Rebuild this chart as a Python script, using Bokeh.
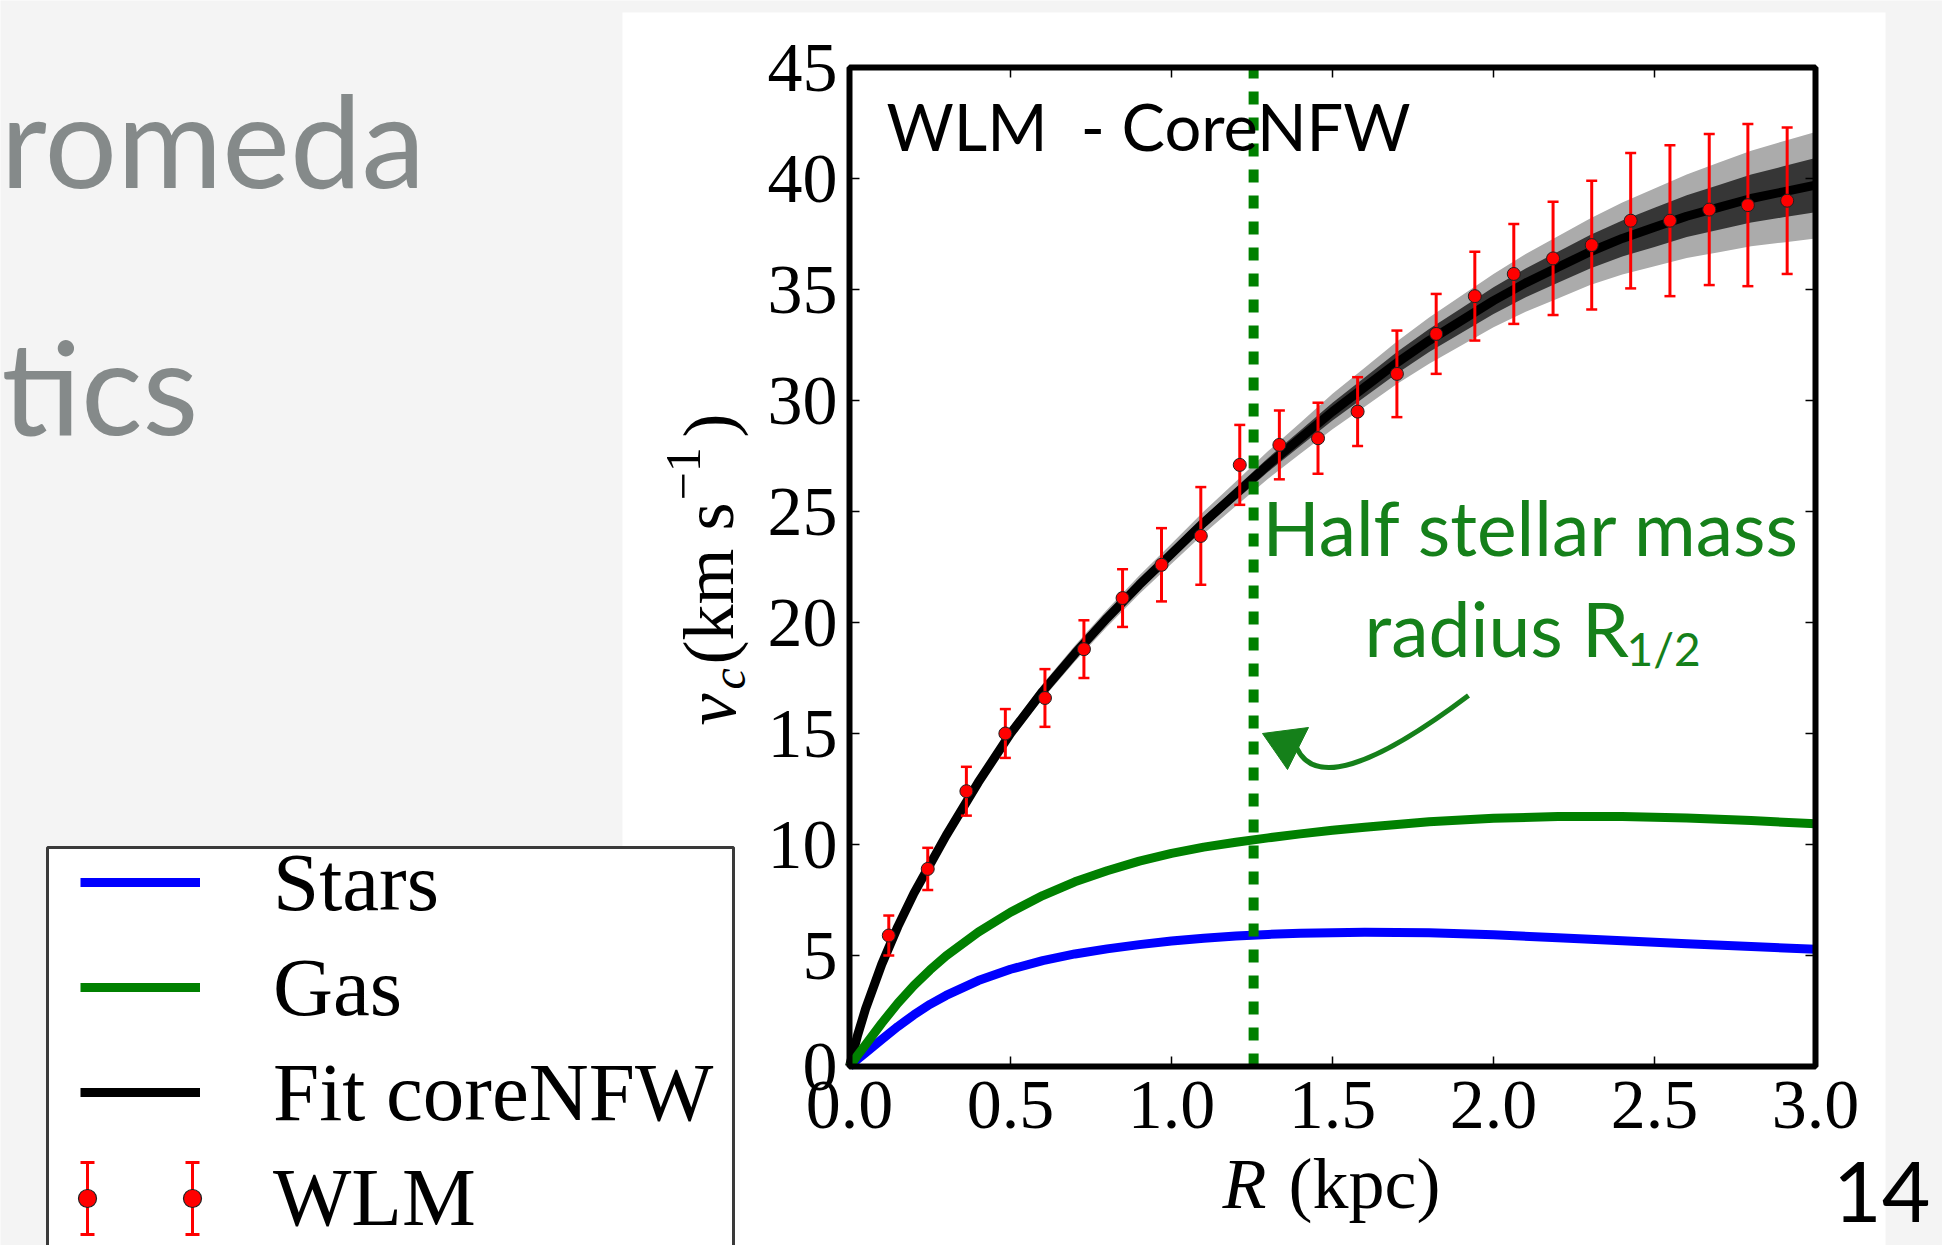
import numpy as np
from bokeh.plotting import figure
from bokeh.models import (Range1d, LinearAxis, FixedTicker, CustomJSTickFormatter,
                          Label, BoxAnnotation, Legend, LegendItem)
from bokeh.embed import file_html
from bokeh.resources import INLINE

# ---------------- data ----------------
data_r = [0.122, 0.243, 0.363, 0.484, 0.607, 0.728, 0.848, 0.969, 1.091, 1.212, 1.335, 1.455,
          1.578, 1.700, 1.822, 1.942, 2.063, 2.185, 2.305, 2.426, 2.548, 2.670, 2.790, 2.912]
data_v = [5.9, 8.9, 12.4, 15.0, 16.6, 18.8, 21.1, 22.6, 23.9, 27.1, 28.0, 28.3,
          29.5, 31.2, 33.0, 34.7, 35.7, 36.4, 37.0, 38.1, 38.1, 38.6, 38.8, 39.0]
data_err = [0.9, 0.95, 1.1, 1.1, 1.3, 1.3, 1.3, 1.65, 2.2, 1.8, 1.55, 1.6,
            1.55, 1.95, 1.8, 2.0, 2.25, 2.55, 2.9, 3.05, 3.4, 3.4, 3.65, 3.3]

fit_r = [0, 0.025, 0.05, 0.1, 0.15, 0.2, 0.25, 0.3, 0.4, 0.5, 0.6, 0.7, 0.8, 0.9, 1.0, 1.1, 1.2,
         1.3, 1.4, 1.5, 1.6, 1.7, 1.8, 1.9, 2.0, 2.1, 2.2, 2.3, 2.4, 2.5, 2.6, 2.7, 2.8, 2.9, 3.0]
fit_v = [0, 1.4, 2.6, 4.6, 6.3, 7.8, 9.1, 10.4, 12.8, 15.0, 16.9, 18.6, 20.2, 21.7, 23.1, 24.5, 25.8,
         27.1, 28.3, 29.5, 30.6, 31.7, 32.7, 33.6, 34.5, 35.3, 36.0, 36.7, 37.3, 37.8, 38.3, 38.7, 39.1, 39.4, 39.7]
fit_band_outer = [0, 0.05, 0.08, 0.12, 0.15, 0.18, 0.2, 0.22, 0.26, 0.3, 0.33, 0.36, 0.39, 0.42, 0.45, 0.5, 0.55,
                  0.62, 0.7, 0.8, 0.88, 0.96, 1.04, 1.12, 1.2, 1.3, 1.4, 1.5, 1.62, 1.75, 1.88, 2.02, 2.15, 2.28, 2.4]
fit_band_inner = [0, 0.03, 0.04, 0.06, 0.08, 0.09, 0.1, 0.11, 0.13, 0.15, 0.17, 0.18, 0.2, 0.21, 0.23, 0.25, 0.28,
                  0.31, 0.35, 0.4, 0.44, 0.48, 0.52, 0.56, 0.6, 0.65, 0.7, 0.75, 0.81, 0.88, 0.94, 1.01, 1.08, 1.15, 1.22]

comp_r = [0, 0.025, 0.05, 0.1, 0.15, 0.2, 0.25, 0.3, 0.4, 0.5, 0.6, 0.7, 0.8, 0.9, 1.0, 1.1, 1.2,
          1.3, 1.4, 1.5, 1.6, 1.8, 2.0, 2.2, 2.4, 2.6, 2.8, 3.0]
stars_v = [0, 0.32, 0.62, 1.22, 1.8, 2.33, 2.8, 3.2, 3.87, 4.38, 4.77, 5.07, 5.3, 5.49, 5.65, 5.78, 5.88,
           5.95, 6.0, 6.03, 6.05, 6.03, 5.93, 5.8, 5.66, 5.53, 5.4, 5.28]
gas_v = [0, 0.5, 0.98, 1.95, 2.85, 3.65, 4.35, 4.98, 6.05, 6.95, 7.7, 8.32, 8.82, 9.25, 9.6, 9.88, 10.1,
         10.3, 10.48, 10.64, 10.78, 11.02, 11.18, 11.26, 11.26, 11.19, 11.08, 10.93]

r_half = 1.255

x_ticks = [0.0, 0.5, 1.0, 1.5, 2.0, 2.5, 3.0]
x_tick_labels = ["0.0", "0.5", "1.0", "1.5", "2.0", "2.5", "3.0"]
y_ticks = [0, 5, 10, 15, 20, 25, 30, 35, 40, 45]
y_tick_labels = ["0", "5", "10", "15", "20", "25", "30", "35", "40", "45"]
x_max, y_max = 3.0, 45.0

# ---------------- page geometry ----------------
W, H = 1942, 1245
FL, FR, FT, FB = 849, 1815, 67, 1066        # chart box edges on the page (px)
PX = (FR - FL) / x_max                      # px per kpc
PY = (FB - FT) / y_max                      # px per km/s


def dx(px):   # page x -> data x
    return (px - FL) / PX


def dy(py):   # page y -> data y
    return (FB - py) / PY


GREEN_TXT = "#15801a"
SERIF = "Liberation Serif"
SANS = "Lato"
GRAY = "#f4f4f4"

p = figure(width=W, height=H, title=None,
           x_range=Range1d(dx(0), dx(W)), y_range=Range1d(dy(H), dy(0)),
           output_backend="svg", toolbar_location=None, min_border=0)
p.background_fill_color = GRAY
p.border_fill_color = GRAY
p.outline_line_color = None
p.xgrid.visible = False
p.ygrid.visible = False

for ax, ticks, labels in ((p.xaxis[0], x_ticks, x_tick_labels), (p.yaxis[0], y_ticks, y_tick_labels)):
    ax.fixed_location = 0
    ax.ticker = FixedTicker(ticks=ticks)
    ax.major_label_overrides = dict(zip(ticks, labels))
    ax.axis_line_color = None
    ax.major_tick_in = 10
    ax.major_tick_out = 0
    ax.major_tick_line_color = "black"
    ax.major_tick_line_width = 1.5
    ax.minor_tick_line_color = None
    ax.major_label_text_font = SERIF
    ax.major_label_text_font_size = "70px"
    ax.major_label_text_color = "black"
p.xaxis[0].major_label_standoff = 15
p.yaxis[0].major_label_standoff = 12

for loc, ticks, fixed in (("above", x_ticks, y_max), ("right", y_ticks, x_max)):
    a = LinearAxis(ticker=FixedTicker(ticks=ticks), formatter=CustomJSTickFormatter(code="return ''"),
                   fixed_location=fixed, axis_line_color=None, major_tick_in=10, major_tick_out=0,
                   major_tick_line_color="black", major_tick_line_width=1.5,
                   minor_tick_line_color=None, major_label_text_font_size="1px")
    p.add_layout(a, loc)

# white slide panel holding the chart image
p.quad(left=[dx(622)], right=[dx(1885)], top=[dy(12)], bottom=[dy(H + 50)],
       fill_color="white", line_color=None)

# ---------------- chart glyphs ----------------
fr = np.array(fit_r)
fv = np.array(fit_v)
bo = np.array(fit_band_outer)
bi = np.array(fit_band_inner)
p.varea(x=fr, y1=fv - bo, y2=fv + bo, fill_color="#ababab")
p.varea(x=fr, y1=fv - bi, y2=fv + bi, fill_color="#363636")
r_fit = p.line(fit_r, fit_v, line_color="black", line_width=9, line_join="round")
r_star = p.line(comp_r, stars_v, line_color="#0000ff", line_width=9, line_join="round")
r_gas = p.line(comp_r, gas_v, line_color="#008000", line_width=9, line_join="round")

dr = np.array(data_r)
dv = np.array(data_v)
de = np.array(data_err)
r_err = p.segment(x0=dr, y0=dv - de, x1=dr, y1=dv + de, line_color="#ff0000", line_width=3)
p.scatter(np.concatenate([dr, dr]), np.concatenate([dv - de, dv + de]), marker="dash",
          size=11, line_color="#ff0000", line_width=2.5)
r_pts = p.scatter(dr, dv, marker="circle", size=13, fill_color="#ff0000",
                  line_color="#202020", line_width=1)

p.segment(x0=[r_half], y0=[0], x1=[r_half], y1=[y_max], line_color="#008000",
          line_width=10, line_dash="13 13")

# curved annotation arrow
p.quadratic(x0=[dx(1468)], y0=[dy(695)], x1=[dx(1296)], y1=[dy(747)],
            cx=[dx(1322)], cy=[dy(805)], line_color=GREEN_TXT, line_width=5)
p.patch([dx(1262), dx(1308), dx(1287)], [dy(733), dy(727), dy(769)], fill_color=GREEN_TXT,
        line_color=GREEN_TXT, line_width=1)

# chart frame (thick spines)
p.add_layout(BoxAnnotation(left=0, right=x_max, bottom=0, top=y_max, fill_alpha=0,
                           line_color="black", line_alpha=1, line_width=6))

# ---------------- legend ----------------
p.quad(left=[dx(47)], right=[dx(733)], top=[dy(847)], bottom=[dy(H + 60)],
       fill_color="white", line_color="#3a3a3a", line_width=3)
# WLM legend symbol: two points with error bars (matplotlib numpoints=2 style)
leg_px = [dx(87), dx(192)]
leg_y, leg_lo, leg_hi = dy(1198), dy(1234), dy(1162)
p.segment(x0=leg_px, y0=[leg_lo] * 2, x1=leg_px, y1=[leg_hi] * 2, line_color="#ff0000", line_width=3)
p.scatter(leg_px * 2, [leg_lo] * 2 + [leg_hi] * 2, marker="dash", size=14,
          line_color="#ff0000", line_width=3)
p.scatter(leg_px, [leg_y] * 2, marker="circle", size=18, fill_color="#ff0000",
          line_color="#202020", line_width=1.2)

# legend proxies (empty data): thicker legend lines, WLM symbol drawn above
px_star = p.line(x=[], y=[], line_color="#0000ff", line_width=14)
px_gas = p.line(x=[], y=[], line_color="#008000", line_width=14)
px_fit = p.line(x=[], y=[], line_color="black", line_width=14)
px_wlm = p.scatter(x=[], y=[], marker="circle", fill_alpha=0, line_alpha=0)

legend = Legend(items=[LegendItem(label="Stars", renderers=[r_star, px_star]),
                       LegendItem(label="Gas", renderers=[r_gas, px_gas]),
                       LegendItem(label="Fit coreNFW", renderers=[r_fit, px_fit]),
                       LegendItem(label="WLM", renderers=[px_wlm])],
                location=(80, H - 1247), orientation="vertical",
                glyph_width=120, glyph_height=100, label_height=100, spacing=5, padding=0,
                margin=0, label_standoff=73, label_text_font=SERIF, label_text_font_size="83px",
                label_text_color="black", border_line_alpha=0, background_fill_alpha=0)
p.add_layout(legend)

BASE_FIX = 0.41   # measured shift of the rendered baseline, in em


def lab(text, x, y, size, font=SANS, color="black", align="left", style="normal", rot=False):
    if rot:
        x = x - BASE_FIX * size
    else:
        y = y - BASE_FIX * size
    p.add_layout(Label(x=x, y=H - y, x_units="screen", y_units="screen", text=text,
                       text_font=font, text_font_size=f"{size}px", text_color=color,
                       text_align=align, text_baseline="alphabetic", text_font_style=style,
                       angle=np.pi / 2 if rot else 0.0))


# slide text
lab("romeda", 0, 190, 128, color="#858a8a")
lab("tics", 1, 437, 129, color="#858a8a")
lab("14", 1930, 1226, 84, align="right")

# chart texts
lab("WLM\u00a0 - CoreNFW", 886, 152, 65)
lab("Half stellar mass", 1262, 557, 75, color=GREEN_TXT)
lab("radius R", 1364, 658, 75, color=GREEN_TXT)
lab("1/2", 1626, 667, 46, color=GREEN_TXT)

# axis titles
lab("R", 1222, 1213, 72, font=SERIF, style="italic")
lab("(kpc)", 1288, 1213, 72, font=SERIF)
lab("v", 740, 725, 72, font=SERIF, style="italic", rot=True)
lab("c", 748, 689, 48, font=SERIF, style="italic", rot=True)
lab("(km s", 738, 664, 72, font=SERIF, rot=True)
lab("\u22121", 703, 500, 50, font=SERIF, rot=True)
lab(")", 738, 437, 72, font=SERIF, rot=True)

open("out.html", "w").write(file_html(p, INLINE))
